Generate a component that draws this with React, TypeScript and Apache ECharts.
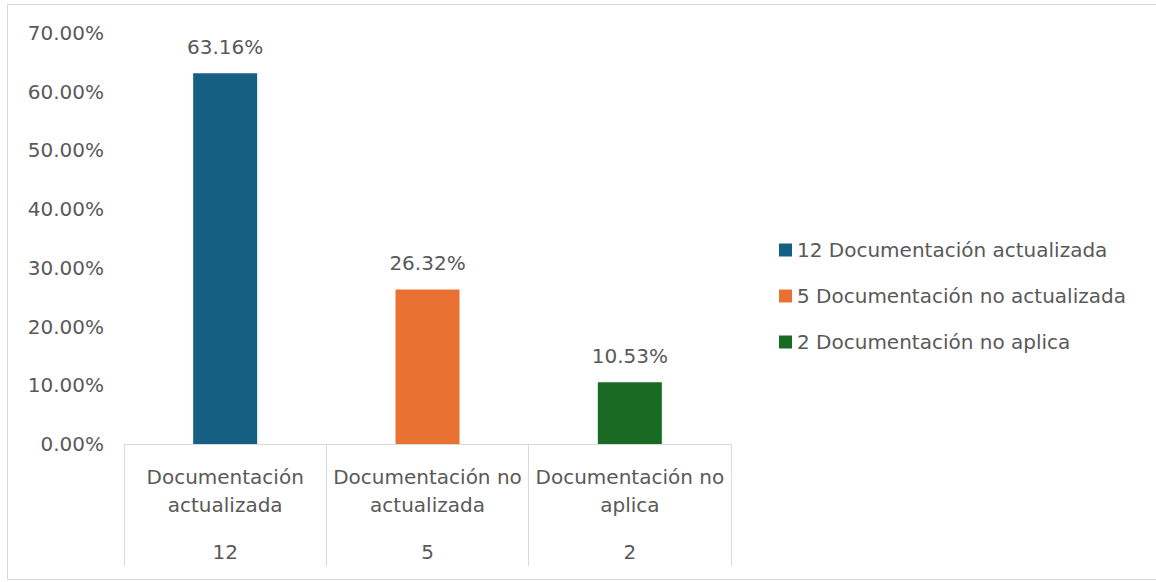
import React, { useEffect, useRef } from "react";
import * as echarts from "echarts";

const categories = ["Documentación\nactualizada", "Documentación no\nactualizada", "Documentación no\naplica"];
const counts = ["12", "5", "2"];
const seriesNames = ["12 Documentación actualizada", "5 Documentación no actualizada", "2 Documentación no aplica"];
const percentValues = [63.16, 26.32, 10.53];
const colors = ["#156082", "#E97132", "#196B24"];
const yTicks = { min: 0, max: 70, interval: 10 };

const FONT = "DejaVu Sans";
const TEXT = "#595959";
const LINE = "#D9D9D9";

export default function App() {
  const ref = useRef<HTMLDivElement>(null);
  useEffect(() => {
    if (!ref.current) return;
    const chart = echarts.init(ref.current, undefined, { renderer: "svg" });
    const series = seriesNames.map((name, i) => ({
      name,
      type: "bar",
      barWidth: 64,
      barGap: "-100%",
      itemStyle: { color: colors[i] },
      label: {
        show: true,
        position: "top",
        distance: 16,
        color: TEXT,
        fontFamily: FONT,
        fontSize: 20,
        formatter: (p: any) => `${Number(p.value).toFixed(2)}%`,
      },
      data: categories.map((_, j) => (j === i ? percentValues[i] : "-")),
    }));
    chart.setOption({
      animation: false,
      textStyle: { fontFamily: FONT },
      graphic: [
        {
          type: "rect",
          shape: { x: 7.5, y: 4.5, width: 1170, height: 575 },
          style: { fill: "none", stroke: LINE, lineWidth: 1 },
          silent: true,
        },
      ],
      grid: { left: 124, right: 425, top: 33, bottom: 138, containLabel: false },
      legend: {
        orient: "vertical",
        left: 774,
        top: 235,
        icon: "rect",
        itemWidth: 13,
        itemHeight: 13,
        itemGap: 26,
        data: seriesNames,
        textStyle: { color: TEXT, fontFamily: FONT, fontSize: 20, lineHeight: 20 },
      },
      xAxis: {
        type: "category",
        data: categories,
        axisLine: { show: true, lineStyle: { color: LINE, width: 1 } },
        axisTick: { show: true, length: 122, lineStyle: { color: LINE, width: 1 } },
        axisLabel: {
          interval: 0,
          margin: 19,
          overflow: "none",
          color: TEXT,
          fontFamily: FONT,
          fontSize: 20,
          formatter: (v: string, idx: number) => {
            const lines = v.split("\n").map((l) => `{a|${l}}`).join("\n");
            return `${lines}\n{b|${counts[idx]}}`;
          },
          rich: {
            a: { fontFamily: FONT, fontSize: 20, color: TEXT, lineHeight: 28 },
            b: { fontFamily: FONT, fontSize: 20, color: TEXT, lineHeight: 66 },
          },
        },
      },
      yAxis: {
        type: "value",
        min: yTicks.min,
        max: yTicks.max,
        interval: yTicks.interval,
        axisLine: { show: false },
        axisTick: { show: false },
        splitLine: { show: false },
        axisLabel: {
          margin: 20,
          color: TEXT,
          fontFamily: FONT,
          fontSize: 20,
          formatter: (v: number) => `${v.toFixed(2)}%`,
        },
      },
      series,
    });
    return () => chart.dispose();
  }, []);
  return (
    <div
      ref={ref}
      style={{ position: "absolute", left: 0, top: 0, width: 1156, height: 582, background: "#fff" }}
    />
  );
}
